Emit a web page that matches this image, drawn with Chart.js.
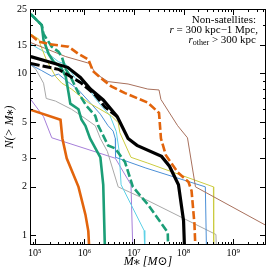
<!DOCTYPE html>
<html><head><meta charset="utf-8">
<script src="https://cdn.jsdelivr.net/npm/chart.js@4"></script>
<style>html,body{margin:0;padding:0;background:#fff;}</style>
</head><body>
<canvas id="c" width="274" height="274"></canvas>
<script>
const SERIF = '"Liberation Serif","DejaVu Serif","Times New Roman",serif';

// ---- data (stellar mass M*, cumulative count N(>M*)) ----
const blackSolidM = [8.3e4, 1.9e5, 4.6e5, 8.3e5, 1.32e6, 2.4e6, 4.6e6, 7.6e6, 1.15e7, 3.6e7, 5.2e7, 7.9e7, 1.0e8, 1.05e8];
const blackSolidN = [12.7, 11.8, 10.9, 9.45, 8.0, 6.85, 5.4, 3.96, 3.59, 3.07, 2.67, 2.05, 1.23, 0.8];

const blackDashM = [8.3e4, 3.0e5, 8.3e5, 1.66e6, 2.6e6, 4.6e6];
const blackDashN = [11.5, 10.6, 8.8, 7.35, 6.2, 5.4];

const orangeDashM = [8.3e4, 1.2e5, 1.9e5, 4.8e5, 7.6e5, 1.2e6, 1.5e6, 2.2e6, 3.5e6, 6.6e6, 1.2e7, 1.9e7, 3.2e7, 3.5e7, 4.4e7, 7.6e7, 1.26e8, 1.45e8, 1.66e8, 1.74e8];
const orangeDashN = [17.3, 15.7, 15.2, 14.6, 13.2, 12.2, 10.3, 9.3, 8.3, 7.55, 7.0, 6.6, 5.7, 3.96, 3.12, 2.45, 2.13, 1.88, 1.17, 0.8];

const orangeSolidM = [8.3e4, 3.3e5, 3.6e5, 4.4e5, 7.6e5, 1.05e6, 1.2e6, 1.26e6];
const orangeSolidN = [5.95, 5.17, 3.96, 2.99, 1.99, 1.34, 1.06, 0.8];

const greenSolidM = [8.3e4, 1.38e5, 1.5e5, 1.9e5, 2.4e5, 3.3e5, 4.2e5, 4.8e5, 5.2e5, 7.6e5, 8.7e5, 1.05e6, 1.3e6, 2.1e6, 2.4e6, 2.6e6];
const greenSolidN = [23.2, 19.9, 16.1, 13.2, 11.8, 11.0, 9.6, 7.55, 6.5, 6.0, 5.2, 4.75, 3.96, 3.03, 2.05, 0.8];

const greenDashM = [8.3e4, 1.38e5, 1.5e5, 2.2e5, 3.0e5, 3.5e5, 4.2e5, 5.2e5, 7.6e5, 1.1e6, 1.66e6, 1.9e6, 2.4e6, 3.0e6, 4.2e6, 6.6e6, 9.5e6, 1.9e7, 4.8e7, 4.9e7];
const greenDashN = [23.2, 19.9, 17.5, 14.6, 13.6, 12.7, 10.6, 9.6, 7.55, 6.3, 5.47, 4.75, 4.13, 3.59, 3.44, 2.83, 1.99, 1.55, 1.04, 0.8];

const brownM = [8.3e4, 4.2e5, 1.3e6, 1.66e6, 3.0e6, 7.6e6, 1.9e7, 3.2e7, 3.5e7, 7.6e7, 1.2e8, 1.74e8, 4.6e9];
const brownN = [15.5, 12.7, 11.5, 10.0, 8.9, 8.6, 8.0, 7.9, 6.9, 4.75, 4.0, 1.99, 1.15];

const yellowM = [8.3e4, 1.2e5, 1.3e5, 1.7e5, 2.6e5, 3.5e5, 5.5e5, 1.2e6, 1.9e6, 3.5e6, 4.8e6, 5.2e6, 8.7e6, 1.9e7, 4.0e8, 4.05e8];
const yellowN = [17.5, 16.3, 15.0, 12.2, 9.6, 8.7, 8.0, 6.6, 6.1, 5.47, 4.96, 4.3, 3.03, 2.79, 1.99, 0.8];

const blueM = [8.3e4, 1.38e5, 2.2e5, 3.0e5, 4.6e5, 7.6e5, 1.3e6, 2.1e6, 3.0e6, 3.8e6, 4.2e6, 4.25e6, 1.74e7, 2.75e8, 2.9e8];
const blueN = [11.3, 10.4, 9.6, 9.9, 8.9, 7.9, 6.6, 5.6, 4.75, 4.4, 3.96, 3.03, 2.6, 1.99, 0.8];

const cyanM = [8.3e4, 1.2e5, 1.9e5, 3.0e5, 4.2e5, 6.6e5, 1.05e6, 1.66e6, 2.2e6, 3.3e6, 4.4e6, 5.0e6, 5.5e6, 8.7e6, 1.6e7, 1.65e7];
const cyanN = [15.2, 14.2, 13.2, 11.8, 11.4, 9.3, 8.6, 7.0, 6.3, 5.47, 4.37, 3.35, 2.05, 1.55, 1.07, 0.8];

const greyM = [8.3e4, 1.05e5, 1.5e5, 1.7e5, 2.6e5, 5.5e5, 8.7e5, 1.66e6, 2.1e6, 2.9e6, 4.8e6, 1.74e7, 4.5e8, 4.6e8];
const greyN = [11.3, 10.6, 8.7, 7.0, 6.75, 6.0, 5.47, 4.75, 3.96, 3.3, 1.99, 1.66, 1.01, 0.8];

const purpleM = [8.3e4, 1.5e5, 2.2e5, 4.2e6, 8.7e6, 9.5e6];
const purpleN = [6.9, 5.4, 4.0, 2.99, 2.05, 0.8];

// ---- axis ticks ----
const xTickValues = [1e5, 1e6, 1e7, 1e8, 1e9];
const xTickLabels = ['10⁵', '10⁶', '10⁷', '10⁸', '10⁹'];
const yTickValues = [1, 2, 3, 5, 10, 15, 25];
const yTickLabels = ['1', '2', '3', '5', '10', '15', '25'];
const yMinorTicks = [4, 6, 7, 8, 9, 20];

const pts = (M, N) => M.map((m, i) => ({x: m, y: N[i]}));
const ds = (M, N, color, width, dash) => ({
  data: pts(M, N), borderColor: color, borderWidth: width, borderDash: dash || [],
  pointRadius: 0, fill: false, tension: 0, clip: 0
});

const datasets = [
  ds(blackSolidM, blackSolidN, '#000000', 3.2),
  ds(blackDashM, blackDashN, '#000000', 3.0, [9, 3]),
  ds(orangeDashM, orangeDashN, '#e2640c', 2.6, [8, 3]),
  ds(orangeSolidM, orangeSolidN, '#e2640c', 2.6),
  ds(greenDashM, greenDashN, '#1b9e77', 2.6, [8, 3]),
  ds(greenSolidM, greenSolidN, '#1b9e77', 2.6),
  ds(brownM, brownN, '#a8705c', 1),
  ds(yellowM, yellowN, '#cccc40', 1),
  ds(blueM, blueN, '#4b8fd6', 1),
  ds(cyanM, cyanN, '#5bd0e6', 1),
  ds(greyM, greyN, '#a8a8a8', 1),
  ds(purpleM, purpleN, '#a67fd9', 1)
];

function drawRuns(ctx, runs, xRight, yBase) {
  let w = 0;
  runs.forEach(r => { ctx.font = r.font; r.w = ctx.measureText(r.t).width; w += r.w; });
  let x = xRight - w;
  runs.forEach(r => { ctx.font = r.font; ctx.fillText(r.t, x, yBase + (r.dy || 0)); x += r.w; });
}

const framePlugin = {
  id: 'frame',
  afterDatasetsDraw(chart) {
    const {ctx, chartArea: a, scales: {x, y}} = chart;
    ctx.save();
    ctx.strokeStyle = '#000'; ctx.lineWidth = 1;
    ctx.strokeRect(a.left + 0.5, a.top + 0.5, a.right - a.left - 1, a.bottom - a.top - 1);
    const hl = (px, len) => { const p = Math.round(px) + 0.5; ctx.beginPath();
      ctx.moveTo(a.left, p); ctx.lineTo(a.left + len, p);
      ctx.moveTo(a.right, p); ctx.lineTo(a.right - len, p); ctx.stroke(); };
    const vl = (px, len) => { const p = Math.round(px) + 0.5; ctx.beginPath();
      ctx.moveTo(p, a.bottom); ctx.lineTo(p, a.bottom - len);
      ctx.moveTo(p, a.top); ctx.lineTo(p, a.top + len); ctx.stroke(); };
    yTickValues.forEach(v => hl(y.getPixelForValue(v), 6));
    yMinorTicks.forEach(v => hl(y.getPixelForValue(v), 3));
    for (let e = 4; e <= 9; e++) {
      for (let m = 1; m <= 9; m++) {
        const v = m * Math.pow(10, e);
        if (v < x.min || v > x.max) continue;
        vl(x.getPixelForValue(v), m === 1 ? 6 : 3);
      }
    }
    // annotation
    ctx.fillStyle = '#000'; ctx.textBaseline = 'alphabetic';
    const f = '11px ' + SERIF, fi = 'italic 11px ' + SERIF, fs = '8px ' + SERIF;
    drawRuns(ctx, [{t: 'Non-satellites:', font: f}], 256, 23);
    drawRuns(ctx, [{t: 'r', font: fi}, {t: ' = 300 kpc\u22121 Mpc,', font: f}], 258, 33);
    drawRuns(ctx, [{t: 'r', font: fi}, {t: 'other', font: fs, dy: 2}, {t: ' > 300 kpc', font: f}], 256, 43);
    ctx.restore();
  }
};

new Chart(document.getElementById('c'), {
  type: 'line',
  data: {datasets},
  plugins: [framePlugin],
  options: {
    responsive: false, animation: false, devicePixelRatio: 1,
    layout: {padding: {top: 6, right: 8, left: 0, bottom: 0}},
    plugins: {legend: {display: false}, tooltip: {enabled: false}},
    scales: {
      x: {
        type: 'logarithmic', position: 'bottom', min: 8e4, max: 4.6e9,
        afterFit: s => { s.height = 29; },
        afterBuildTicks: s => { s.ticks = xTickValues.map(v => ({value: v})); },
        ticks: {callback: (v, i) => xTickLabels[i], autoSkip: false, maxRotation: 0, minRotation: 0,
                padding: 2, color: '#000', font: {family: SERIF, size: 10}},
        grid: {display: false, drawTicks: false},
        border: {display: false},
        title: {display: true, text: 'M⁎ [M⊙]', color: '#000',
                font: {family: SERIF, size: 12, style: 'italic'}, padding: {top: 0, bottom: 5}}
      },
      y: {
        type: 'logarithmic', position: 'left', min: 0.87, max: 25,
        afterFit: s => { s.width = 30; },
        afterBuildTicks: s => { s.ticks = yTickValues.map(v => ({value: v})); },
        ticks: {callback: (v, i) => yTickLabels[i], autoSkip: false, padding: 3, color: '#000',
                font: {family: SERIF, size: 10}},
        grid: {display: false, drawTicks: false},
        border: {display: false},
        title: {display: true, text: 'N(> M⁎)', color: '#000',
                font: {family: SERIF, size: 12, style: 'italic'}, padding: {top: 3, bottom: 0}}
      }
    }
  }
});
</script>
</body></html>
